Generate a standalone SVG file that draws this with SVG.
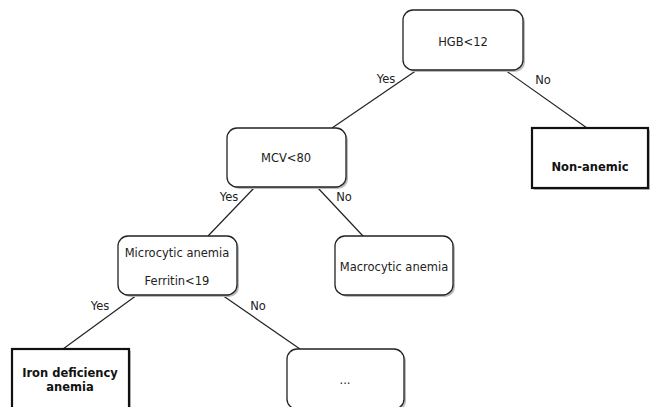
<svg xmlns="http://www.w3.org/2000/svg" width="650" height="407" viewBox="0 0 650 407">
<style>
.n{fill:#fff;stroke:#222;stroke-width:1.3}
.b{fill:#fff;stroke:#111;stroke-width:2.2}
.sh{fill:#bbb;stroke:none}
.t{font-family:"DejaVu Sans",Verdana,sans-serif;font-size:11.5px;fill:#222;text-anchor:middle}
.tb{font-family:"DejaVu Sans",Verdana,sans-serif;font-size:11.5px;font-weight:bold;fill:#111;text-anchor:middle}
.l{font-family:"DejaVu Sans",Verdana,sans-serif;font-size:11.5px;fill:#222;text-anchor:middle}
#edges line{stroke:#222;stroke-width:1.2}
</style>
<rect width="650" height="407" fill="#fff"/>
<g id="edges">
<line x1="417" y1="70" x2="332" y2="128"/>
<line x1="505" y1="70" x2="587" y2="128"/>
<line x1="255" y1="187" x2="208" y2="236"/>
<line x1="317" y1="187" x2="363" y2="236"/>
<line x1="137" y1="295" x2="63" y2="349"/>
<line x1="222" y1="295" x2="300" y2="349"/>
<text class="l" x="386" y="83">Yes</text>
<text class="l" x="543" y="84">No</text>
<text class="l" x="229" y="201">Yes</text>
<text class="l" x="344" y="201">No</text>
<text class="l" x="100" y="310">Yes</text>
<text class="l" x="258" y="310">No</text>
</g>
<g id="hgb">
<rect class="sh" x="405" y="12" width="120" height="60" rx="10"/>
<rect class="n" x="403" y="10" width="120" height="60" rx="10"/>
<text class="t" x="463" y="46">HGB&lt;12</text>
</g>
<g id="nonanemic">
<rect class="sh" x="534" y="130" width="117" height="60"/>
<rect class="b" x="532" y="128" width="116" height="60"/>
<text class="tb" x="590" y="171">Non-anemic</text>
</g>
<g id="mcv">
<rect class="sh" x="229" y="130" width="119" height="59" rx="10"/>
<rect class="n" x="227" y="128" width="119" height="59" rx="10"/>
<text class="t" x="286" y="162">MCV&lt;80</text>
</g>
<g id="macro">
<rect class="sh" x="337" y="238" width="118" height="59" rx="10"/>
<rect class="n" x="335" y="236" width="118" height="59" rx="10"/>
<text class="t" x="394" y="271">Macrocytic anemia</text>
</g>
<g id="micro">
<rect class="sh" x="120" y="238" width="119" height="59" rx="10"/>
<rect class="n" x="118" y="236" width="119" height="59" rx="10"/>
<text class="t" x="177" y="257">Microcytic anemia</text>
<text class="t" x="177" y="285">Ferritin&lt;19</text>
</g>
<g id="iron">
<rect class="sh" x="14" y="351" width="117" height="60"/>
<rect class="b" x="12" y="349" width="117" height="60"/>
<text class="tb" x="70" y="377">Iron deficiency</text>
<text class="tb" x="70" y="391">anemia</text>
</g>
<g id="more">
<rect class="sh" x="289" y="351" width="117" height="60" rx="10"/>
<rect class="n" x="287" y="349" width="117" height="60" rx="10"/>
<text class="t" x="345" y="384">...</text>
</g>
</svg>
